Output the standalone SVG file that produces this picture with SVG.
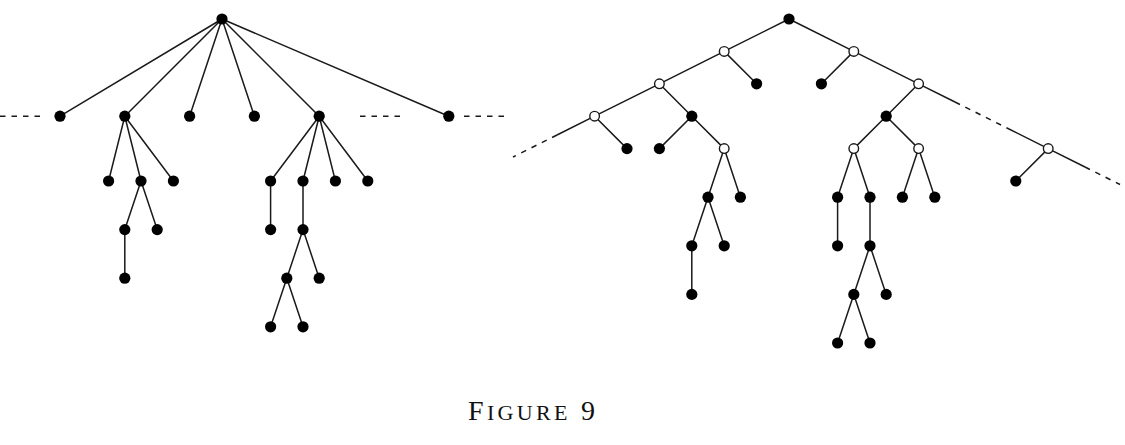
<svg xmlns="http://www.w3.org/2000/svg" width="1125" height="445" viewBox="0 0 1125 445">
<style>
.e{stroke:#1a1a1a;stroke-width:1.5;fill:none}
.d{stroke:#1a1a1a;stroke-width:1.5;fill:none;stroke-dasharray:5.5 6}
.f{fill:#000}
.o{fill:#fff;stroke:#1a1a1a;stroke-width:1.4}
.cap{font-family:"Liberation Serif","DejaVu Serif",serif;fill:#111}
</style>
<rect width="1125" height="445" fill="#fff"/>
<g id="connectors">
<path class="e" d="M222,19L60,116.2M222,19L124.8,116.2M222,19L189.6,116.2M222,19L254.4,116.2M222,19L319.2,116.2M222,19L448.8,116.2"/>
<path class="e" d="M124.8,116.2L108.6,181M124.8,116.2L141,181M124.8,116.2L173.4,181M141,181L124.8,229.6M141,181L157.2,229.6M124.8,229.6L124.8,278.2"/>
<path class="e" d="M319.2,116.2L270.6,181M319.2,116.2L303,181M319.2,116.2L335.4,181M319.2,116.2L367.8,181M270.6,181L270.6,229.6M303,181L303,229.6M303,229.6L286.8,278.2M303,229.6L319.2,278.2M286.8,278.2L270.6,326.8M286.8,278.2L303,326.8"/>
<path class="d" d="M0,116.2H42M360,116.2H406M464,116.2H510"/>
<path class="e" d="M789,19L724.2,51.4M789,19L853.8,51.4M724.2,51.4L659.4,83.8M724.2,51.4L756.6,83.8M853.8,51.4L821.4,83.8M853.8,51.4L918.6,83.8"/>
<path class="e" d="M659.4,83.8L594.6,116.2M659.4,83.8L691.8,116.2M594.6,116.2L627,148.6M691.8,116.2L659.4,148.6M691.8,116.2L724.2,148.6M724.2,148.6L708,197.2M724.2,148.6L740.4,197.2M708,197.2L691.8,245.8M708,197.2L724.2,245.8M691.8,245.8L691.8,294.4"/>
<path class="e" d="M918.6,83.8L886.2,116.2M886.2,116.2L853.8,148.6M886.2,116.2L918.6,148.6M853.8,148.6L837.6,197.2M853.8,148.6L870,197.2M837.6,197.2L837.6,245.8M870,197.2L870,245.8M870,245.8L853.8,294.4M870,245.8L886.2,294.4M853.8,294.4L837.6,343M853.8,294.4L870,343M918.6,148.6L902.4,197.2M918.6,148.6L934.8,197.2M1048.2,148.6L1015.8,181"/>
<path class="e" d="M594.6,116.2L557,135M918.6,83.8L955,102M1008,128.5L1048.2,148.6L1085,167"/>
<path class="d" d="M557,135L513,157M955,102L1008,128.5M1085,167L1120,184.5"/>
</g>
<g id="left-tree">
<g id="l-root"><circle class="f" cx="222" cy="19" r="5.6"/></g>
<g id="l1a"><circle class="f" cx="60" cy="116.2" r="5.6"/></g>
<g id="l1b"><circle class="f" cx="124.8" cy="116.2" r="5.6"/></g>
<g id="l1c"><circle class="f" cx="189.6" cy="116.2" r="5.6"/></g>
<g id="l1d"><circle class="f" cx="254.4" cy="116.2" r="5.6"/></g>
<g id="l1e"><circle class="f" cx="319.2" cy="116.2" r="5.6"/></g>
<g id="l1f"><circle class="f" cx="448.8" cy="116.2" r="5.6"/></g>
<g id="l2a"><circle class="f" cx="108.6" cy="181" r="5.6"/></g>
<g id="l2b"><circle class="f" cx="141" cy="181" r="5.6"/></g>
<g id="l2c"><circle class="f" cx="173.4" cy="181" r="5.6"/></g>
<g id="l3a"><circle class="f" cx="124.8" cy="229.6" r="5.6"/></g>
<g id="l3b"><circle class="f" cx="157.2" cy="229.6" r="5.6"/></g>
<g id="l4a"><circle class="f" cx="124.8" cy="278.2" r="5.6"/></g>
<g id="l2d"><circle class="f" cx="270.6" cy="181" r="5.6"/></g>
<g id="l2e"><circle class="f" cx="303" cy="181" r="5.6"/></g>
<g id="l2f"><circle class="f" cx="335.4" cy="181" r="5.6"/></g>
<g id="l2g"><circle class="f" cx="367.8" cy="181" r="5.6"/></g>
<g id="l3c"><circle class="f" cx="270.6" cy="229.6" r="5.6"/></g>
<g id="l3d"><circle class="f" cx="303" cy="229.6" r="5.6"/></g>
<g id="l4b"><circle class="f" cx="286.8" cy="278.2" r="5.6"/></g>
<g id="l4c"><circle class="f" cx="319.2" cy="278.2" r="5.6"/></g>
<g id="l5a"><circle class="f" cx="270.6" cy="326.8" r="5.6"/></g>
<g id="l5b"><circle class="f" cx="303" cy="326.8" r="5.6"/></g>
</g>
<g id="right-tree">
<g id="r-root"><circle class="f" cx="789" cy="19" r="5.6"/></g>
<g id="rA"><circle class="o" cx="724.2" cy="51.4" r="4.8"/></g>
<g id="rB"><circle class="o" cx="853.8" cy="51.4" r="4.8"/></g>
<g id="rA1"><circle class="o" cx="659.4" cy="83.8" r="4.8"/></g>
<g id="rA2"><circle class="f" cx="756.6" cy="83.8" r="5.6"/></g>
<g id="rB1"><circle class="f" cx="821.4" cy="83.8" r="5.6"/></g>
<g id="rB2"><circle class="o" cx="918.6" cy="83.8" r="4.8"/></g>
<g id="rC"><circle class="o" cx="594.6" cy="116.2" r="4.8"/></g>
<g id="rD"><circle class="f" cx="691.8" cy="116.2" r="5.6"/></g>
<g id="rE"><circle class="f" cx="886.2" cy="116.2" r="5.6"/></g>
<g id="rC1"><circle class="f" cx="627" cy="148.6" r="5.6"/></g>
<g id="rD1"><circle class="f" cx="659.4" cy="148.6" r="5.6"/></g>
<g id="rD2"><circle class="o" cx="724.2" cy="148.6" r="4.8"/></g>
<g id="rE1"><circle class="o" cx="853.8" cy="148.6" r="4.8"/></g>
<g id="rE2"><circle class="o" cx="918.6" cy="148.6" r="4.8"/></g>
<g id="rF"><circle class="o" cx="1048.2" cy="148.6" r="4.8"/></g>
<g id="rF1"><circle class="f" cx="1015.8" cy="181" r="5.6"/></g>
<g id="rD2a"><circle class="f" cx="708" cy="197.2" r="5.6"/></g>
<g id="rD2b"><circle class="f" cx="740.4" cy="197.2" r="5.6"/></g>
<g id="rD2a1"><circle class="f" cx="691.8" cy="245.8" r="5.6"/></g>
<g id="rD2a2"><circle class="f" cx="724.2" cy="245.8" r="5.6"/></g>
<g id="rD2a1a"><circle class="f" cx="691.8" cy="294.4" r="5.6"/></g>
<g id="rE1a"><circle class="f" cx="837.6" cy="197.2" r="5.6"/></g>
<g id="rE1b"><circle class="f" cx="870" cy="197.2" r="5.6"/></g>
<g id="rE1a1"><circle class="f" cx="837.6" cy="245.8" r="5.6"/></g>
<g id="rE1b1"><circle class="f" cx="870" cy="245.8" r="5.6"/></g>
<g id="rE1b1a"><circle class="f" cx="853.8" cy="294.4" r="5.6"/></g>
<g id="rE1b1b"><circle class="f" cx="886.2" cy="294.4" r="5.6"/></g>
<g id="rE1b1a1"><circle class="f" cx="837.6" cy="343" r="5.6"/></g>
<g id="rE1b1a2"><circle class="f" cx="870" cy="343" r="5.6"/></g>
<g id="rE2a"><circle class="f" cx="902.4" cy="197.2" r="5.6"/></g>
<g id="rE2b"><circle class="f" cx="934.8" cy="197.2" r="5.6"/></g>
</g>
<g id="caption">
<text class="cap" x="468" y="420" textLength="127" lengthAdjust="spacing"><tspan font-size="28">F</tspan><tspan font-size="22">IGURE</tspan><tspan font-size="28"> 9</tspan></text>
</g>
</svg>
